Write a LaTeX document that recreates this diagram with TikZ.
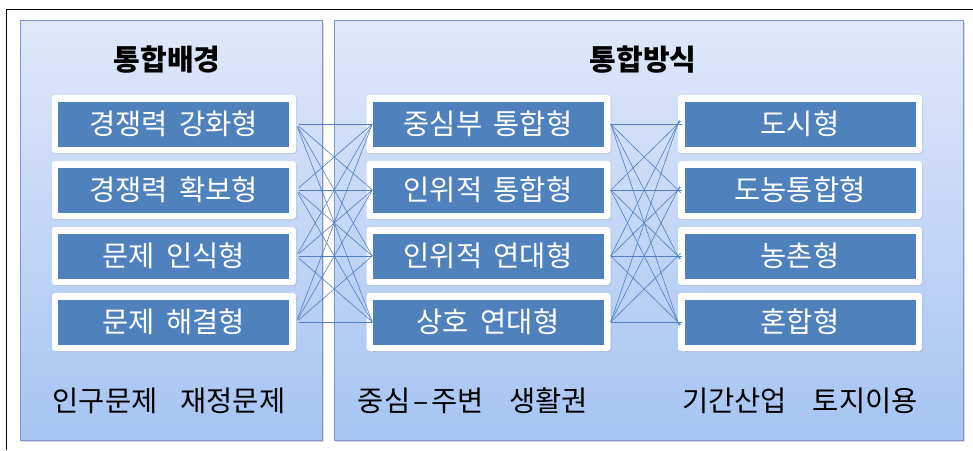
\documentclass[tikz,border=0pt]{standalone}
\usepackage{fontspec}
\setmainfont{Noto Sans CJK KR}
\usetikzlibrary{shadows}
\definecolor{boxblue}{RGB}{79,129,189}
\definecolor{paneltop}{RGB}{223,232,250}
\definecolor{panelbot}{RGB}{166,196,242}
\definecolor{panelline}{RGB}{125,152,200}
\definecolor{linkblue}{RGB}{80,128,195}
\newcommand\wsp{\hspace{0.4em}}
\tikzset{
  panel/.style={draw=panelline, line width=0.8pt, top color=paneltop, bottom color=panelbot,
    drop shadow={shadow xshift=1.5pt, shadow yshift=-1.5pt, opacity=0.3}, inner sep=0pt},
  frame/.style={fill=white, rounded corners=3pt, minimum width=244pt, minimum height=58pt, inner sep=0pt,
    drop shadow={shadow xshift=1pt, shadow yshift=-1pt, opacity=0.2}},
  inner/.style={fill=boxblue, minimum width=231pt, minimum height=45pt, inner sep=0pt, text=white,
    font=\fontsize{28.5}{32}\selectfont},
  title/.style={font=\fontsize{29}{32}\selectfont\bfseries, text=black},
  note/.style={font=\fontsize{28.5}{32}\selectfont, text=black},
  link/.style={draw=linkblue, line width=0.6pt}
}
\begin{document}
\begin{tikzpicture}[x=1pt,y=-1pt]
\useasboundingbox (0,0) rectangle (973,450);
\fill[white] (0,0) rectangle (973,450);
\draw[black, line width=0.8pt] (6,450) -- (6,9) -- (973,9);
% panels
\node[panel, minimum width=302pt, minimum height=420pt] (P1) at (171,230) {};
\node[panel, minimum width=629pt, minimum height=420pt] (P2) at (648.5,230) {};
% titles
\node[title] (T1) at (167,60) {통합배경};
\node[title] (T2) at (643,60) {통합방식};
% boxes
\foreach \i/\y/\a/\b/\c in {1/124/경쟁력\wsp 강화형/중심부\wsp 통합형/도시형,
                            2/190/경쟁력\wsp 확보형/인위적\wsp 통합형/도농통합형,
                            3/256/문제\wsp 인식형/인위적\wsp 연대형/농촌형,
                            4/322/문제\wsp 해결형/상호\wsp 연대형/혼합형}{
  \node[frame] (L\i) at (174,\y) {};
  \node[inner] (Lb\i) at (173.5,\y) {\a};
  \node[frame] (M\i) at (488.5,\y) {};
  \node[inner] (Mb\i) at (488,\y) {\b};
  \node[frame] (R\i) at (800,\y) {};
  \node[inner] (Rb\i) at (800,\y) {\c};
}
% links
\foreach \i in {1,...,4}{
  \foreach \j in {1,...,4}{
    \draw[link, shorten <=3pt] (L\i.east) -- (Mb\j.west);
    \draw[link, shorten >=-4pt] (M\i.east) -- (R\j.west);
  }
}
% bottom notes
\node[note] (N1) at (169,401) {인구문제\hspace{0.8em}재정문제};
\node[note] (N2) at (473,401) {중심\hspace{0.1em}–\hspace{0.1em}주변\hspace{0.9em}생활권};
\node[note] (N3) at (800,401) {기간산업\hspace{0.9em}토지이용};
\end{tikzpicture}
\end{document}
